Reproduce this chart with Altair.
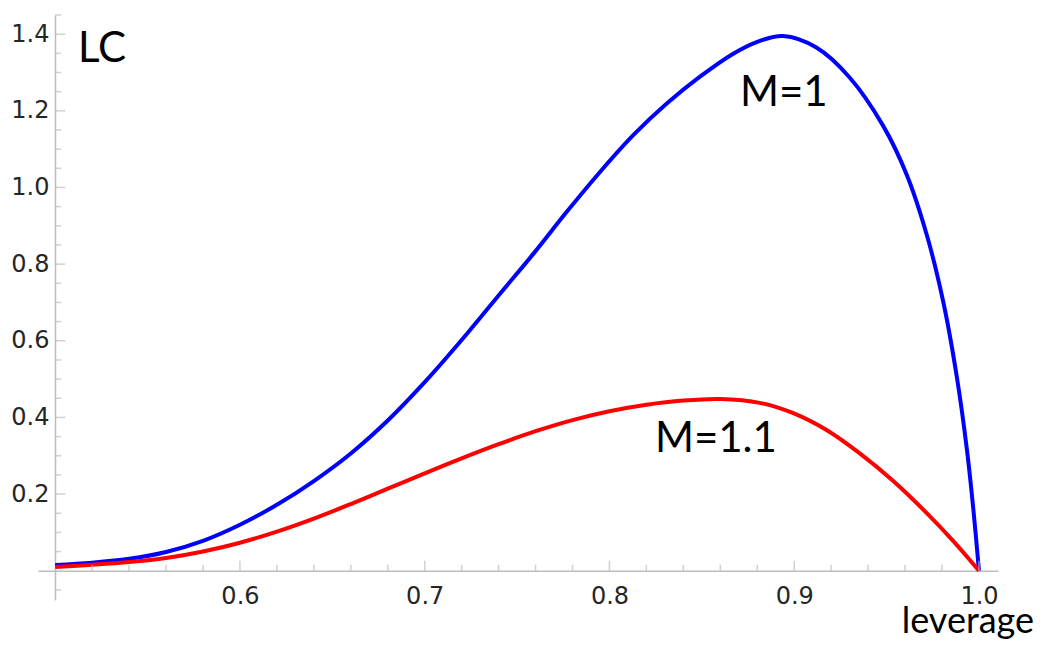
import altair as alt
import pandas as pd

# ---- data ----
lev_m1 = [0.50, 0.52, 0.54, 0.56, 0.58, 0.60, 0.62, 0.64, 0.66, 0.68, 0.70,
          0.723, 0.741, 0.759, 0.777, 0.795, 0.813, 0.831, 0.849, 0.867, 0.880,
          0.894, 0.912, 0.930, 0.948, 0.961, 0.972, 0.981, 0.988, 0.9935, 0.997, 1.0]
lc_m1 = [0.015, 0.021, 0.031, 0.049, 0.078, 0.120, 0.172, 0.234, 0.306, 0.392, 0.492,
         0.619, 0.724, 0.828, 0.937, 1.041, 1.137, 1.219, 1.289, 1.349, 1.380,
         1.395, 1.365, 1.287, 1.162, 1.032, 0.872, 0.694, 0.506, 0.315, 0.158, 0.0]

lev_m11 = [0.50, 0.52, 0.54, 0.56, 0.58, 0.60, 0.62, 0.64, 0.66, 0.68, 0.70,
           0.72, 0.74, 0.76, 0.78, 0.80, 0.82, 0.84, 0.86, 0.8814, 0.8995, 0.9175,
           0.9355, 0.9536, 0.9716, 0.986, 1.0]
lc_m11 = [0.010, 0.0155, 0.0225, 0.033, 0.050, 0.073, 0.102, 0.136, 0.174, 0.214, 0.254,
          0.293, 0.330, 0.364, 0.393, 0.416, 0.433, 0.444, 0.448, 0.438, 0.411, 0.367,
          0.306, 0.234, 0.151, 0.078, 0.0]

series_names = ["M=1", "M=1.1"]
series_colors = ["#0000ff", "#ff0000"]

x_tick_labels = [0.6, 0.7, 0.8, 0.9, 1.0]
y_tick_labels = [0.2, 0.4, 0.6, 0.8, 1.0, 1.2, 1.4]
x_minor = [0.52, 0.54, 0.56, 0.58, 0.62, 0.64, 0.66, 0.68, 0.72, 0.74, 0.76, 0.78,
           0.82, 0.84, 0.86, 0.88, 0.92, 0.94, 0.96, 0.98]
y_minor = [-0.05, 0.05, 0.1, 0.15, 0.25, 0.3, 0.35, 0.45, 0.5, 0.55, 0.65, 0.7, 0.75,
           0.85, 0.9, 0.95, 1.05, 1.1, 1.15, 1.25, 1.3, 1.35, 1.45]

label_text = ["LC", "M=1", "M=1.1"]
label_x = [0.5123, 0.8706, 0.8246]
label_y = [1.327, 1.212, 0.310]
axis_title = "leverage"
axis_title_x = 0.994
axis_title_y = -0.163

x_domain = [0.4907, 1.0103]
y_domain = [-0.0764, 1.45]

# ---- tables ----
df = pd.concat([
    pd.DataFrame({"lev": lev_m1, "lc": lc_m1, "series": series_names[0]}),
    pd.DataFrame({"lev": lev_m11, "lc": lc_m11, "series": series_names[1]}),
], ignore_index=True)
xmaj_df = pd.DataFrame({"v": x_tick_labels})
xmin_df = pd.DataFrame({"v": x_minor})
ymaj_df = pd.DataFrame({"v": y_tick_labels})
ymin_df = pd.DataFrame({"v": y_minor})
lab_df = pd.DataFrame({"x": label_x, "y": label_y, "t": label_text})
title_df = pd.DataFrame({"x": [axis_title_x], "y": [axis_title_y], "t": [axis_title]})

xs = alt.Scale(domain=x_domain, nice=False, zero=False)
ys = alt.Scale(domain=y_domain, nice=False, zero=False)

axis_gray = "#bdbdbd"
label_col = "#262626"
x_axis = alt.Axis(values=x_tick_labels, format=".1f", offset=-29.3, grid=False,
                  ticks=False, labelPadding=14, labelFont="DejaVu Sans",
                  labelFontSize=24, labelColor=label_col, domainColor=axis_gray,
                  domainWidth=1.5, labelFlush=False, title=None)
y_axis = alt.Axis(values=y_tick_labels, format=".1f", offset=-17, grid=False,
                  ticks=False, labelPadding=6, labelFont="DejaVu Sans",
                  labelFontSize=24, labelColor=label_col, domainColor=axis_gray,
                  domainWidth=1.5, labelFlush=False, title=None)

lines = alt.Chart(df).mark_line(strokeWidth=4, interpolate="catmull-rom").encode(
    x=alt.X("lev:Q", scale=xs, axis=x_axis),
    y=alt.Y("lc:Q", scale=ys, axis=y_axis),
    color=alt.Color("series:N", scale=alt.Scale(domain=series_names, range=series_colors),
                    legend=None),
)

def xticks(data, size):
    return alt.Chart(data).mark_tick(orient="vertical", size=size, thickness=1.5,
                                     color=axis_gray, yOffset=-size / 2).encode(
        x=alt.X("v:Q"),
        y=alt.YDatum(0),
    )

def yticks(data, size):
    return alt.Chart(data).mark_tick(orient="horizontal", size=size, thickness=1.5,
                                     color=axis_gray, xOffset=size / 2).encode(
        y=alt.Y("v:Q"),
        x=alt.XDatum(0.5),
    )

labels = alt.Chart(lab_df).mark_text(align="left", baseline="alphabetic", font="Lato",
                                     fontSize=42, color="#000000").encode(
    x=alt.X("x:Q"),
    y=alt.Y("y:Q"),
    text="t:N",
)

xtitle = alt.Chart(title_df).mark_text(align="center", baseline="alphabetic", font="Lato",
                                       fontSize=36, color="#000000").encode(
    x=alt.X("x:Q"),
    y=alt.Y("y:Q"),
    text="t:N",
)

chart = alt.layer(
    lines,
    xticks(xmin_df, 6), xticks(xmaj_df, 10), yticks(ymin_df, 6), yticks(ymaj_df, 10),
    labels, xtitle,
).properties(
    width=960, height=585,
    padding={"left": 30, "top": 7, "right": 54, "bottom": 40},
    autosize=alt.AutoSizeParams(type="none"),
).configure_view(strokeWidth=0)

chart.save("out.html", embed_options={"renderer": "svg", "actions": False})
